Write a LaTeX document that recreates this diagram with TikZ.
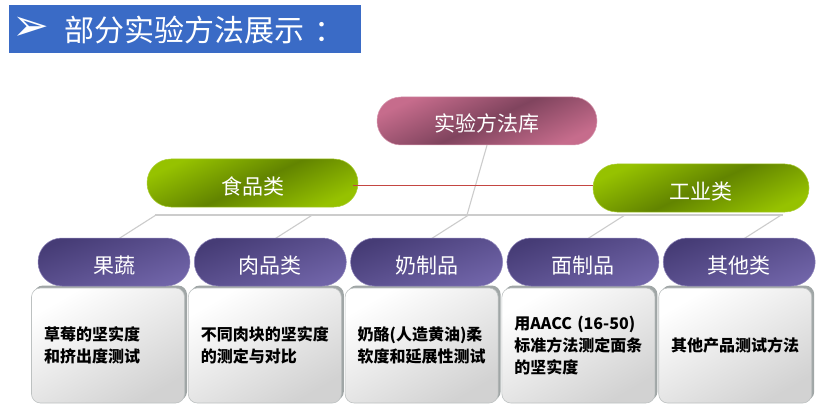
\documentclass[tikz,border=0pt]{standalone}
\usepackage{fontspec}
\newfontfamily\cjk{Noto Sans CJK SC}
\newfontfamily\dejavu{DejaVu Sans}
\usetikzlibrary{backgrounds,calc}
\definecolor{bannerblue}{RGB}{58,107,198}
\definecolor{pinkL}{RGB}{198,108,140}
\definecolor{pinkD}{RGB}{128,68,94}
\definecolor{greenL}{RGB}{150,194,0}
\definecolor{greenD}{RGB}{98,132,0}
\definecolor{purD}{RGB}{70,60,118}
\definecolor{purL}{RGB}{112,100,168}
\definecolor{framegray}{RGB}{160,166,166}
\definecolor{boxgray}{RGB}{210,210,210}
\definecolor{traygray}{RGB}{204,204,204}
\definecolor{connred}{RGB}{196,70,66}
\tikzset{
  capsule/.style={rectangle, rounded corners=23.9pt, minimum height=48pt, inner sep=0pt,
    text=white, text height=22pt, text depth=0pt, font=\cjk\fontsize{21}{21}\selectfont},
  pinkcap/.style={capsule, top color=pinkL, bottom color=pinkL, middle color=pinkD, shading angle=25,
    draw=pinkL!70!white, line width=0.5pt},
  greencap/.style={capsule, top color=greenL, bottom color=greenL, middle color=greenD, shading angle=25,
    draw=greenL!80!white, line width=0.5pt},
  purcap/.style={capsule, minimum width=152pt, top color=purD, bottom color=purL, shading angle=20,
    draw=purL!80!white, line width=0.5pt},
  infobox/.style={rectangle, rounded corners=9pt, minimum width=153pt, minimum height=115pt,
    inner xsep=12.5pt, text width=128pt, align=left,
    font=\cjk\bfseries\fontsize{16}{22}\selectfont,
    top color=white, bottom color=boxgray, shading angle=30,
    draw=framegray!70, line width=0.6pt,
    preaction={fill=framegray, transform canvas={shift={(2.5pt,2.5pt)}}}},
  banner/.style={rectangle, fill=bannerblue, minimum width=352pt, minimum height=48pt, inner sep=0pt},
  trayline/.style={draw=traygray, line width=1.1pt},
  redconn/.style={draw=connred, line width=1.5pt}
}
\begin{document}
\begin{tikzpicture}[x=1pt,y=-1pt]
\useasboundingbox (0,0) rectangle (818,406);
\begin{pgfonlayer}{background}
  \fill[white] (0,0) rectangle (818,406);
\end{pgfonlayer}

% title banner
\node[banner] (banner) at (185,29) {};
\node[text=white, inner sep=0pt, font=\dejavu\fontsize{44}{44}\selectfont] (bullet) at (31,28.5) {➢};
\node[anchor=west, text=white, inner sep=0pt, text height=26pt, text depth=0pt,
      font=\cjk\fontsize{30}{30}\selectfont] (title) at (64,29) {部分实验方法展示\kern10pt：};

% top level capsules
\node[pinkcap, minimum width=220pt] (root) at (487,121) {实验方法库};
\node[greencap, minimum width=211pt] (food) at (252.5,183) {食品类};
\node[greencap, minimum width=216pt] (ind) at (701,188) {工业类};

% connector between the two class capsules
\coordinate (redstart) at (353,185.5);
\draw[redconn] (redstart) -- (redstart -| ind.west);

% info boxes
\node[infobox] (b1) at (108,345.5) {草莓的坚实度\\和挤出度测试};
\node[infobox] (b2) at (264.8,345.5) {不同肉块的坚实度\\的测定与对比};
\node[infobox] (b3) at (421.6,345.5) {奶酪(人造黄油)柔\\软度和延展性测试};
\node[infobox] (b4) at (578.4,345.5) {用AACC (16-50)\\标准方法测定面条\\的坚实度};
\node[infobox] (b5) at (735.2,345.5) {其他产品测试方法};

% category capsules
\node[purcap] (c1) at (114,262) {果蔬};
\node[purcap] (c2) at (270.3,262) {肉品类};
\node[purcap] (c3) at (426.6,262) {奶制品};
\node[purcap] (c4) at (582.9,262) {面制品};
\node[purcap] (c5) at (739.2,262) {其他类};

% tray coordinates
\coordinate (tL) at (155,215);
\coordinate (tR) at (783,215);
\coordinate (tm) at (467,215);
\coordinate (t1) at (156,215);
\coordinate (t2) at (312.3,215);
\coordinate (t3) at (468.6,215);
\coordinate (t4) at (624.9,215);
\coordinate (t5) at (781.2,215);

\begin{pgfonlayer}{background}
  \draw[trayline] (tL) -- (tR);
  \draw[trayline] (root.south) -- (tm);
  \draw[trayline] (t1) -- ([yshift=-4pt]c1.north);
  \draw[trayline] (t2) -- ([yshift=-4pt]c2.north);
  \draw[trayline] (t3) -- ([yshift=-4pt]c3.north);
  \draw[trayline] (t4) -- ([yshift=-4pt]c4.north);
  \draw[trayline] (t5) -- ([yshift=-4pt]c5.north);
\end{pgfonlayer}
\end{tikzpicture}
\end{document}
